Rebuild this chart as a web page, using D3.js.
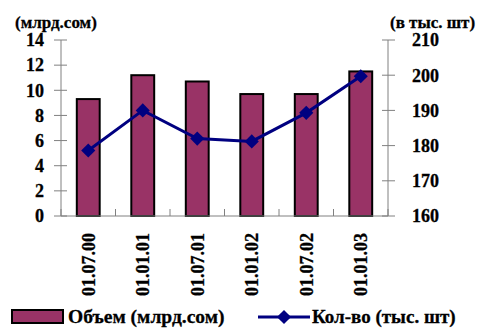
<!DOCTYPE html>
<html><head><meta charset="utf-8">
<script src="https://cdn.jsdelivr.net/npm/d3@7"></script>
<style>body{margin:0;background:#fff}svg{display:block}svg text{font-family:'Liberation Serif',serif;font-weight:bold;fill:#000;stroke:#000;stroke-width:0.3px}</style>
</head><body><svg id="c" width="486" height="328"></svg>
<script>
const categories = ["01.07.00","01.01.01","01.07.01","01.01.02","01.07.02","01.01.03"];
const volume = [9.3, 11.2, 10.7, 9.7, 9.7, 11.5];
const count = [178.6, 190, 182, 181.2, 189.3, 199.7];
const leftTicks = [0,2,4,6,8,10,12,14];
const rightTicks = [160,170,180,190,200,210];
const seriesNames = ["Объем (млрд.сом)", "Кол-во (тыс. шт)"];
const axisTitles = ["(млрд.сом)", "(в тыс. шт)"];

const svg = d3.select("#c");
const L = 61, R = 388, T = 40, B = 216;
const x = d3.scaleBand().domain(categories).range([L, R]).paddingInner(0).paddingOuter(0);
const yL = d3.scaleLinear().domain([0,14]).range([B, T]);
const yR = d3.scaleLinear().domain([160,210]).range([B, T]);
const axisCol = "#808080";
const cx = c => x(c) + x.bandwidth()/2;

// bars
svg.append("g").selectAll("rect").data(volume).join("rect")
  .attr("x", (d,i) => x(categories[i]) + x.bandwidth()*0.29)
  .attr("width", x.bandwidth()*0.42)
  .attr("y", d => yL(d))
  .attr("height", d => B - yL(d))
  .attr("fill", "#993366").attr("stroke", "#000").attr("stroke-width", 2);

// left axis
const gl = svg.append("g");
gl.append("line").attr("x1", L).attr("x2", L).attr("y1", T).attr("y2", B).attr("stroke", axisCol);
gl.selectAll("line.t").data(leftTicks).join("line").attr("class","t")
  .attr("x1", L-7).attr("x2", L+6).attr("y1", d=>yL(d)).attr("y2", d=>yL(d)).attr("stroke", axisCol);
gl.selectAll("text").data(leftTicks).join("text")
  .attr("x", 44).attr("y", d=>yL(d)).attr("dy","0.35em").attr("text-anchor","end")
  .style("font-size", "18px").text(d=>d);

// right axis
const gr = svg.append("g");
gr.append("line").attr("x1", R).attr("x2", R).attr("y1", T).attr("y2", B).attr("stroke", axisCol);
gr.selectAll("line.t").data(rightTicks).join("line").attr("class","t")
  .attr("x1", R-6).attr("x2", R+7).attr("y1", d=>yR(d)).attr("y2", d=>yR(d)).attr("stroke", axisCol);
gr.selectAll("text").data(rightTicks).join("text")
  .attr("x", 412).attr("y", d=>yR(d)).attr("dy","0.35em").attr("text-anchor","start")
  .style("font-size", "18px").text(d=>d);

// x axis
const gx = svg.append("g");
gx.append("line").attr("x1", L).attr("x2", R).attr("y1", B).attr("y2", B).attr("stroke", axisCol);
const bounds = categories.map(c => x(c)).concat([R]);
gx.selectAll("line.t").data(bounds).join("line").attr("class","t")
  .attr("x1", d=>d).attr("x2", d=>d).attr("y1", B-7).attr("y2", B).attr("stroke", axisCol);
gx.selectAll("text").data(categories).join("text")
  .attr("transform", d => `translate(${cx(d)},${233}) rotate(-90)`)
  .attr("text-anchor","end").attr("dy","0.35em").style("font-size", "18px").text(d=>d);

// line
const line = d3.line().x((d,i)=>cx(categories[i])).y(d=>yR(d));
svg.append("path").datum(count).attr("d", line).attr("fill","none").attr("stroke","#000080").attr("stroke-width",3);
const diamond = d3.symbol().type(d3.symbolSquare).size(100);
svg.append("g").selectAll("path").data(count).join("path")
  .attr("transform",(d,i)=>`translate(${cx(categories[i])},${yR(d)}) rotate(45)`)
  .attr("d", diamond).attr("fill","#000080");

// axis titles
svg.append("text").attr("x", 15).attr("y", 28).style("font-size", "17px").text(axisTitles[0]);
svg.append("text").attr("x", 390).attr("y", 28).style("font-size", "17px").text(axisTitles[1]);

// legend
svg.append("rect").attr("x", 12).attr("y", 310).attr("width", 51).attr("height", 13)
  .attr("fill","#993366").attr("stroke","#000").attr("stroke-width",2);
svg.append("text").attr("x", 68).attr("y", 323).style("font-size", "19.5px").text(seriesNames[0]);
svg.append("line").attr("x1", 258).attr("x2", 310).attr("y1", 317).attr("y2", 317).attr("stroke","#000080").attr("stroke-width",3);
svg.append("path").attr("transform","translate(284,317) rotate(45)").attr("d", diamond).attr("fill","#000080");
svg.append("text").attr("x", 312).attr("y", 323).style("font-size", "19px").text(seriesNames[1]);
</script></body></html>
